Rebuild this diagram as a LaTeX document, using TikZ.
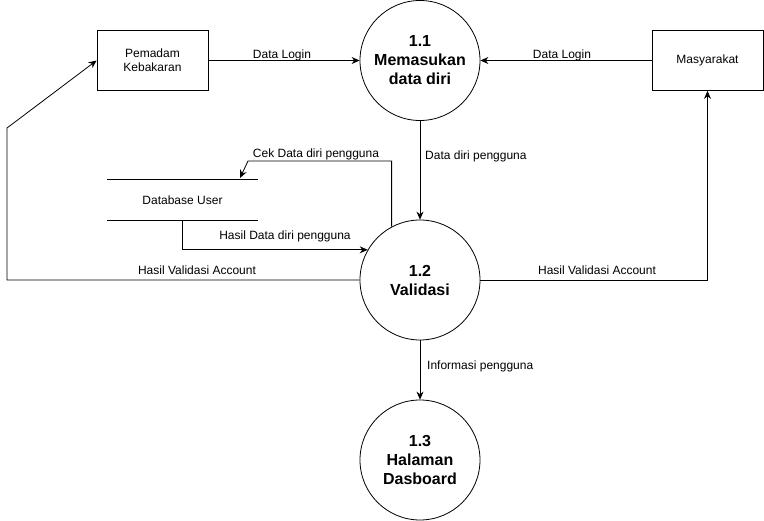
\documentclass[tikz,border=0pt]{standalone}
\usepackage{fontspec}
\setmainfont{Liberation Sans}
\usetikzlibrary{arrows.meta}
\begin{document}
\begin{tikzpicture}[x=1pt,y=-1pt,
  proc/.style={draw,circle,minimum size=120pt,inner sep=0pt,align=center,line width=0.8pt,font=\fontsize{16}{19}\selectfont\bfseries},
  ent/.style={draw,rectangle,minimum width=111pt,minimum height=60pt,inner sep=0pt,align=center,line width=0.8pt,font=\fontsize{12}{14}\selectfont},
  store/.style={minimum width=151pt,minimum height=40pt,inner sep=0pt,font=\fontsize{12}{14}\selectfont},
  lbl/.style={inner sep=0pt,font=\fontsize{12}{14}\selectfont},
  arr/.style={-{Stealth[length=8pt,width=7pt]},line width=0.8pt},
  ln/.style={line width=0.8pt}]
\useasboundingbox[fill=white] (0,0) rectangle (764,521);

\node[proc] (p1) at (420,60.5) {1.1\\Memasukan\\data diri};
\node[proc] (p2) at (420,280) {1.2\\Validasi};
\node[proc] (p3) at (420,460) {1.3\\Halaman\\Dasboard};
\node[ent] (pk) at (152.5,60.5) {Pemadam\\Kebakaran};
\node[ent] (ms) at (707.5,60.5) {Masyarakat};
\node[store] (db) at (182.5,200) {Database User};
\draw[ln] (db.north west) -- (db.north east);
\draw[ln] (db.south west) -- (db.south east);

\coordinate (c1) at (248,161);
\coordinate (c2) at (240,178);
\coordinate (c4) at (7,128);

\draw[arr] (pk.east) -- (p1.west);
\draw[arr] (ms.west) -- (p1.east);
\draw[arr] (p1.south) -- (p2.north);
\draw[arr] (p2.118) |- (c1) -- (c2);
\draw[arr] (db.south) |- (p2.150);
\draw[arr] (p2.west) -| (c4) -- (pk.west);
\draw[arr] (p2.east) -| (ms.south);
\draw[arr] (p2.south) -- (p3.north);

\node[lbl] (l1) at (282,55) {Data Login};
\node[lbl] (l2) at (562,55) {Data Login};
\node[lbl,anchor=west] (l3) at (425,156) {Data diri pengguna};
\node[lbl] (l4) at (316,154) {Cek Data diri pengguna};
\node[lbl] (l5) at (285,236) {Hasil Data diri pengguna};
\node[lbl] (l6) at (197,270) {Hasil Validasi Account};
\node[lbl] (l7) at (597,270) {Hasil Validasi Account};
\node[lbl,anchor=west] (l8) at (427,366) {Informasi pengguna};
\end{tikzpicture}
\end{document}
